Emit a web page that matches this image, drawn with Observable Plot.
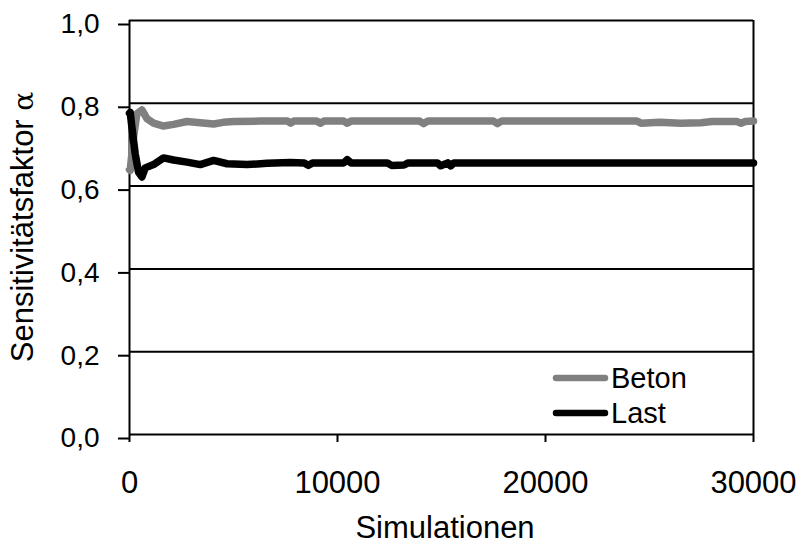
<!DOCTYPE html>
<html>
<head>
<meta charset="utf-8">
<script src="https://cdn.jsdelivr.net/npm/d3@7"></script>
<script src="https://cdn.jsdelivr.net/npm/@observablehq/plot@0.6"></script>
<style>
  html, body { margin: 0; padding: 0; background: white; }
  svg { display: block; }
</style>
</head>
<body>
<script>
const series = ["Beton", "Last"];
const seriesColors = ["#808080", "#000000"];

const betonSim = [0, 34, 193, 356, 597, 838, 1156, 1637, 2119, 2764, 3404, 4045, 4500, 5008, 6293, 7256, 7600, 7750, 7900, 9000, 9180, 9350, 10300, 10466, 10650, 13950, 14143, 14350, 17500, 17691, 17900, 24400, 24590, 25500, 26500, 27479, 28000, 29200, 29405, 29600, 30000];
const betonVal = [0.640, 0.638, 0.718, 0.775, 0.784, 0.763, 0.752, 0.745, 0.749, 0.756, 0.753, 0.750, 0.754, 0.756, 0.757, 0.757, 0.757, 0.752, 0.757, 0.757, 0.752, 0.757, 0.757, 0.752, 0.757, 0.757, 0.751, 0.757, 0.757, 0.751, 0.757, 0.757, 0.752, 0.754, 0.752, 0.753, 0.756, 0.756, 0.752, 0.756, 0.757];

const lastSim = [0, 34, 116, 274, 433, 597, 756, 1156, 1637, 2119, 2764, 3404, 4045, 4690, 5653, 6616, 7738, 8400, 8600, 8800, 10300, 10466, 10650, 12400, 12600, 13200, 13400, 14800, 14960, 15300, 15440, 15600, 30000];
const lastVal = [0.776, 0.778, 0.742, 0.678, 0.634, 0.622, 0.644, 0.652, 0.668, 0.663, 0.658, 0.652, 0.662, 0.654, 0.652, 0.655, 0.657, 0.656, 0.650, 0.656, 0.656, 0.664, 0.656, 0.656, 0.650, 0.651, 0.656, 0.656, 0.649, 0.656, 0.649, 0.656, 0.656];

const yTicks = [0, 0.2, 0.4, 0.6, 0.8, 1.0];
const xTicks = [0, 10000, 20000, 30000];

const xTitle = "Simulationen";
const yTitle = "Sensitivitätsfaktor ";
const yTitleSymbol = "α";

const data = [
  ...betonSim.map((s, i) => ({series: series[0], sim: s, val: betonVal[i]})),
  ...lastSim.map((s, i) => ({series: series[1], sim: s, val: lastVal[i]}))
];

const font = "'Liberation Sans', Arial, sans-serif";

const chart = Plot.plot({
  width: 801,
  height: 549,
  marginLeft: 129,
  marginRight: 48,
  marginTop: 20,
  marginBottom: 115,
  style: {fontFamily: font, color: "black", background: "white", overflow: "visible"},
  x: {domain: [0, 30000]},
  y: {domain: [0, 1]},
  color: {domain: series, range: seriesColors},
  marks: [
    Plot.ruleY(yTicks, {stroke: "black", strokeWidth: 2}),
    Plot.ruleX([0, 30000], {stroke: "black", strokeWidth: 2}),
    Plot.axisY(yTicks, {
      tickSize: 11, tickPadding: 19, fontSize: 28, strokeWidth: 2, dy: 4,
      tickFormat: d => d.toFixed(1).replace(".", ","), label: null
    }),
    Plot.axisX(xTicks, {
      tickSize: 8, tickPadding: 28, fontSize: 31, strokeWidth: 2,
      tickFormat: d => String(d), label: null
    }),
    Plot.line(data, {
      x: "sim", y: "val", z: "series", stroke: "series",
      strokeWidth: 7.5, strokeLinejoin: "round", strokeLinecap: "round", curve: "linear"
    })
  ]
});

document.body.appendChild(chart);

const svg = d3.select(chart);

// Axis titles
svg.append("text")
  .attr("x", 445).attr("y", 538)
  .attr("text-anchor", "middle")
  .attr("font-family", font).attr("font-size", 31).attr("fill", "black")
  .text(xTitle);

const yt = svg.append("text")
  .attr("transform", "translate(33,227) rotate(-90)")
  .attr("text-anchor", "middle")
  .attr("font-family", font).attr("font-size", 31).attr("fill", "black");
yt.append("tspan").text(yTitle);
yt.append("tspan").attr("font-family", "'DejaVu Serif', serif").attr("font-size", 28).text(yTitleSymbol);

// Legend
const legendY = [378, 413];
series.forEach((s, i) => {
  const g = svg.append("g");
  g.append("line")
    .attr("x1", 556).attr("x2", 605)
    .attr("y1", legendY[i]).attr("y2", legendY[i])
    .attr("stroke", seriesColors[i]).attr("stroke-width", 6.5)
    .attr("stroke-linecap", "round");
  g.append("text")
    .attr("x", 611).attr("y", legendY[i]).attr("dy", "0.36em")
    .attr("text-anchor", "start")
    .attr("font-family", font).attr("font-size", 29).attr("fill", "black")
    .text(s);
});
</script>
</body>
</html>
